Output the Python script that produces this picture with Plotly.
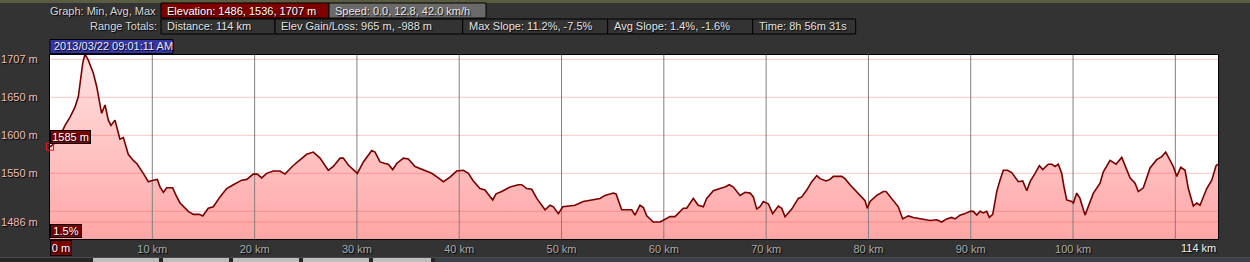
import plotly.graph_objects as go

# ---------------- data ----------------
DIST_KM = [0.00, 0.32, 0.81, 1.47, 1.96, 2.44, 2.77, 3.00, 3.20, 3.42, 3.74, 4.23, 4.57, 4.89, 5.05,
           5.38, 5.70, 5.96, 6.35, 6.68, 6.84, 7.17, 7.33, 7.65, 8.14, 8.48, 9.12, 9.61, 10.10, 10.49,
           10.75, 11.08, 11.41, 11.99, 12.32, 12.71, 13.52, 14.01, 14.59, 14.93, 15.47, 15.96, 16.62,
           17.27, 17.92, 18.74, 19.23, 19.87, 20.26, 20.69, 21.18, 21.83, 22.48, 22.97, 23.75, 24.44,
           25.09, 25.74, 26.39, 27.20, 27.69, 28.35, 28.67, 29.16, 29.65, 30.04, 30.63, 31.45, 31.77,
           32.26, 32.75, 33.07, 33.50, 33.89, 34.54, 35.02, 35.68, 36.49, 37.31, 37.96, 38.45, 39.10,
           39.75, 40.40, 40.89, 41.38, 42.03, 42.52, 43.01, 43.27, 43.60, 44.15, 44.97, 45.78, 46.11,
           46.60, 47.09, 47.58, 48.39, 48.88, 49.20, 49.69, 50.12, 50.83, 51.32, 52.13, 53.11, 53.76,
           54.25, 55.06, 55.33, 55.88, 56.86, 57.18, 57.67, 58.00, 58.33, 58.97, 59.63, 60.28, 60.61,
           61.09, 61.42, 61.91, 62.24, 62.88, 63.37, 63.86, 64.19, 64.84, 65.49, 65.98, 66.40, 66.79,
           67.45, 67.94, 68.43, 68.75, 69.08, 69.40, 69.73, 70.21, 70.64, 71.19, 71.52, 71.85, 72.50,
           73.15, 73.48, 73.97, 74.46, 74.95, 75.27, 75.86, 76.25, 76.57, 77.39, 77.71, 78.20, 79.01,
           79.67, 79.89, 80.16, 80.81, 81.46, 81.72, 82.11, 82.92, 83.35, 83.90, 84.39, 84.88, 85.53,
           86.02, 86.68, 87.16, 87.65, 88.14, 88.47, 88.95, 89.44, 89.93, 90.25, 90.59, 90.91, 91.23,
           91.56, 91.82, 92.15, 92.54, 92.86, 93.19, 93.58, 94.01, 94.65, 95.08, 95.48, 95.80, 96.29,
           96.71, 97.04, 97.58, 97.92, 98.24, 98.56, 98.89, 99.12, 99.38, 99.87, 100.03, 100.36, 100.68,
           101.17, 101.66, 101.99, 102.64, 102.96, 103.62, 104.20, 104.76, 105.08, 105.57, 106.06,
           106.38, 106.87, 107.53, 108.18, 108.67, 109.06, 109.48, 109.80, 110.14, 110.53, 110.95,
           111.27, 111.76, 112.09, 112.41, 113.07, 113.56, 113.98, 114.17]
ELEV_M = [1585, 1588, 1594, 1613, 1624, 1637, 1651, 1677, 1695, 1707, 1699, 1682, 1664, 1640, 1629,
          1640, 1620, 1613, 1620, 1603, 1595, 1597, 1590, 1575, 1567, 1563, 1550, 1539, 1541, 1542,
          1532, 1525, 1531, 1531, 1521, 1511, 1500, 1496, 1496, 1494, 1504, 1506, 1519,
          1530, 1535, 1541, 1542, 1549, 1549, 1544, 1550, 1553, 1553, 1549, 1560, 1568,
          1575, 1578, 1570, 1554, 1559, 1570, 1570, 1561, 1555, 1550, 1565, 1580, 1578,
          1565, 1563, 1562, 1555, 1563, 1570, 1569, 1559, 1554, 1550, 1544, 1539, 1545,
          1553, 1554, 1550, 1540, 1530, 1528, 1519, 1515, 1523, 1526, 1532, 1535, 1535,
          1530, 1529, 1517, 1502, 1508, 1506, 1497, 1506, 1507, 1508, 1513, 1515, 1517,
          1521, 1524, 1523, 1502, 1502, 1495, 1508, 1505, 1494, 1486, 1486, 1490, 1493,
          1493, 1497, 1504, 1504, 1517, 1508, 1506, 1517, 1527, 1530, 1532, 1535, 1532,
          1521, 1525, 1524, 1519, 1503, 1506, 1513, 1510, 1497, 1507, 1504, 1493, 1503,
          1517, 1519, 1528, 1539, 1547, 1543, 1540, 1542, 1546, 1546, 1543, 1535, 1524,
          1514, 1504, 1513, 1521, 1526, 1526, 1519, 1506, 1490, 1494, 1492, 1491, 1489,
          1488, 1489, 1486, 1490, 1492, 1490, 1495, 1497, 1500, 1500, 1495, 1500, 1498,
          1500, 1492, 1496, 1526, 1541, 1554, 1554, 1551, 1539, 1540, 1527, 1539, 1550,
          1560, 1555, 1562, 1562, 1559, 1562, 1550, 1532, 1515, 1513, 1511, 1524, 1517,
          1495, 1513, 1524, 1537, 1552, 1567, 1562, 1571, 1561, 1544, 1537,
          1526, 1531, 1557, 1568, 1572, 1578, 1568, 1559, 1546, 1558, 1554,
          1530, 1507, 1511, 1508, 1530, 1541, 1560, 1562]

X_TICKS = [10, 20, 30, 40, 50, 60, 70, 80, 90, 100]
X_GRID = [10, 20, 30, 40, 50, 60, 70, 80, 90, 100, 110]
Y_GRID = [1500, 1550, 1600, 1650, 1700]
Y_TICKS = [1486, 1550, 1600, 1650, 1700]
Y_TICK_TEXT = ["1486 m", "1550 m", "1600 m", "1650 m", "1707 m"]
X_RANGE = [0, 114.17]
Y_RANGE = [1463.6, 1705.7]

HEADER_ROW1_LABEL = "Graph: Min, Avg, Max"
HEADER_ROW1 = ["Elevation: 1486, 1536, 1707 m", "Speed: 0.0, 12.8, 42.0 km/h"]
HEADER_ROW2_LABEL = "Range Totals:"
HEADER_ROW2 = ["Distance: 114 km", "Elev Gain/Loss: 965 m, -988 m", "Max Slope: 11.2%, -7.5%",
               "Avg Slope: 1.4%, -1.6%", "Time: 8h 56m 31s"]
DATE_TEXT = "2013/03/22 09:01:11 AM"
SLOPE_TEXT = "1.5%"
START_LABEL = "0 m"
END_LABEL = "114 km"

# ---------------- layout geometry ----------------
W, H = 1250, 262
L, T, R, B = 50, 55, 32, 23
PW, PH = W - L - R, H - T - B
FONT = "Liberation Sans, Arial, sans-serif"
SHADOW = "1px 1px 1px #000000"


def PX(px):
    return (px - L) / PW


def PY(py):
    return (T + PH - py) / PH


fig = go.Figure()

# filled area with vertical gradient
fig.add_trace(go.Scatter(
    x=DIST_KM, y=ELEV_M, mode="lines", line=dict(width=0), fill="tozeroy",
    fillgradient=dict(type="vertical", colorscale=[[0, "#ffa6a6"], [1, "#ffe2e2"]],
                      start=Y_RANGE[0], stop=Y_RANGE[1]),
    hoverinfo="skip", showlegend=False))

# grid lines drawn above the fill
gx, gy = [], []
for v in X_GRID:
    gx += [v, v, None]
    gy += [Y_RANGE[0], Y_RANGE[1], None]
fig.add_trace(go.Scatter(x=gx, y=gy, mode="lines", line=dict(color="#808080", width=1),
                         hoverinfo="skip", showlegend=False))
hx, hy = [], []
for v in Y_GRID + [min(ELEV_M)]:
    hx += [X_RANGE[0], X_RANGE[1], None]
    hy += [v, v, None]
fig.add_trace(go.Scatter(x=hx, y=hy, mode="lines", line=dict(color="rgba(240,70,70,0.3)", width=1),
                         hoverinfo="skip", showlegend=False))

# profile outline
fig.add_trace(go.Scatter(x=DIST_KM, y=ELEV_M, mode="lines", line=dict(color="#7a0000", width=1.6),
                         hoverinfo="skip", showlegend=False))
# cursor marker
fig.add_trace(go.Scatter(x=[DIST_KM[0]], y=[ELEV_M[0]], mode="markers",
                         marker=dict(symbol="square-open", size=7, color="#ff1010", line=dict(width=1)),
                         hoverinfo="skip", showlegend=False, cliponaxis=False))

shapes = []


def box(x0, y0, x1, y1, fill, line="#000000", lw=1):
    shapes.append(dict(type="rect", xref="paper", yref="paper", x0=PX(x0), x1=PX(x1),
                       y0=PY(y1), y1=PY(y0), fillcolor=fill,
                       line=dict(color=line, width=lw), layer="above"))


# top map strip and bottom toolbar
box(0, 0, W, 3, "#5a5d42", lw=0)
box(0, 257, W, H, "#262626", lw=0)
box(0, 257, W, 258, "#4a4a4a", lw=0)
for bx0, bx1 in [(93, 159), (163, 229), (233, 299), (303, 369), (373, 431)]:
    box(bx0, 258, bx1, H, "#bdbdbd", lw=0)
box(435, 258, W, H, "#3b4149", lw=0)

# header boxes
row1_boxes = [(161, 329, "#7f0000"), (329, 486, "#6a6a6a")]
row2_edges = [161, 275, 462.7, 607.7, 752.7, 855.7]
for x0, x1, c in row1_boxes:
    box(x0, 3, x1, 18, c)
for i in range(len(HEADER_ROW2)):
    box(row2_edges[i], 19, row2_edges[i + 1], 34, "#333333")
box(50, 39.5, 173, 53.5, "#3535a5")

annotations = []


def text(px, py, s, color, anchor="left"):
    annotations.append(dict(xref="paper", yref="paper", x=PX(px), y=PY(py), text=s,
                            showarrow=False, xanchor=anchor, yanchor="middle",
                            font=dict(family=FONT, size=11, color=color, shadow=SHADOW)))


text(157.5, 11, HEADER_ROW1_LABEL, "#d8d8d8", "right")
text(165, 11, HEADER_ROW1[0], "#ffffff")
text(333, 11, HEADER_ROW1[1], "#e6e6e6")
text(158.5, 26.5, HEADER_ROW2_LABEL, "#d8d8d8", "right")
for i, s in enumerate(HEADER_ROW2):
    text(row2_edges[i] + 4, 26.5, s, "#e2e2e2")
text(52, 46.5, DATE_TEXT, "#e8e8f8")

# value boxes on plot
annotations.append(dict(x=DIST_KM[0], y=ELEV_M[0], xref="x", yref="y", text=f"{ELEV_M[0]} m",
                        showarrow=False, xanchor="left", yanchor="bottom", yshift=3,
                        bgcolor="#7a0000", bordercolor="#000000", borderwidth=1, borderpad=1,
                        width=37, height=10,
                        font=dict(family=FONT, size=11, color="#ffffff", shadow=SHADOW)))
annotations.append(dict(x=0, y=0, xref="paper", yref="paper", text=SLOPE_TEXT,
                        showarrow=False, xanchor="left", yanchor="bottom", yshift=1,
                        bgcolor="#7a0000", bordercolor="#000000", borderwidth=1, borderpad=1,
                        width=28, height=10,
                        font=dict(family=FONT, size=11, color="#ffffff", shadow=SHADOW)))
annotations.append(dict(x=0, y=0, xref="paper", yref="paper", text=START_LABEL,
                        showarrow=False, xanchor="left", yanchor="top", yshift=-1,
                        bgcolor="#7a0000", bordercolor="#000000", borderwidth=1, borderpad=1,
                        width=18, height=12,
                        font=dict(family=FONT, size=11, color="#ffffff", shadow=SHADOW)))
annotations.append(dict(x=X_RANGE[1], y=0, xref="x", yref="paper", text=END_LABEL,
                        showarrow=False, xanchor="right", yanchor="top", yshift=-1,
                        font=dict(family=FONT, size=11, color="#f2f2f2", shadow=SHADOW)))

fig.update_layout(
    width=W, height=H, autosize=False,
    margin=dict(l=L, r=R, t=T, b=B, pad=0, autoexpand=False),
    paper_bgcolor="#333333", plot_bgcolor="#ffffff",
    showlegend=False, shapes=shapes, annotations=annotations,
    xaxis=dict(range=X_RANGE, showgrid=False, zeroline=False, tickvals=X_TICKS, automargin=False,
               ticktext=[f"{v} km" for v in X_TICKS], ticks="", ticklabelstandoff=0,
               tickfont=dict(family=FONT, size=11, color="#ababab", shadow=SHADOW),
               showline=True, linecolor="#000000", linewidth=1, mirror=True, fixedrange=True),
    yaxis=dict(range=Y_RANGE, showgrid=False, zeroline=False, tickvals=Y_TICKS, automargin=False,
               ticktext=Y_TICK_TEXT, ticks="", ticklabelstandoff=9,
               tickfont=dict(family=FONT, size=11, color="#efbcbc", shadow=SHADOW),
               showline=True, linecolor="#000000", linewidth=1, mirror=True, fixedrange=True),
)

fig.write_html("out.html")
